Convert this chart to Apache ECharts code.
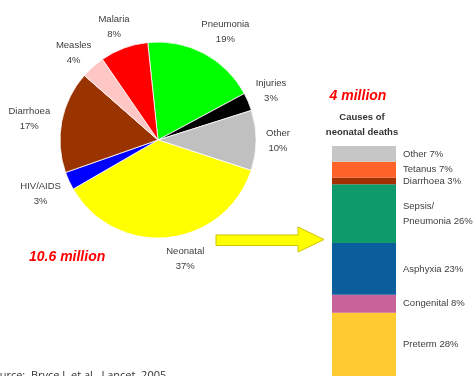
<!DOCTYPE html>
<html>
<head>
<meta charset="utf-8">
<script src="https://cdn.jsdelivr.net/npm/echarts@6/dist/echarts.min.js"></script>
<style>
html,body{margin:0;padding:0;background:#fff;}
#chart{width:475px;height:376px;}
</style>
</head>
<body>
<div id="chart"></div>
<script>
// Pie: causes of child deaths (clockwise from Pneumonia)
var pieNames  = ['Pneumonia', 'Injuries', 'Other', 'Neonatal', 'HIV/AIDS', 'Diarrhoea', 'Measles', 'Malaria'];
var pieValues = [19, 3, 10, 37, 3, 17, 4, 8];
var pieColors = ['#00ff00', '#000000', '#c0c0c0', '#ffff00', '#0000ff', '#993300', '#ffc6c6', '#ff0000'];

// Stacked bar: causes of neonatal deaths (bottom to top)
var barNames  = ['Preterm', 'Congenital', 'Asphyxia', 'Sepsis/\nPneumonia', 'Diarrhoea', 'Tetanus', 'Other'];
var barValues = [28, 8, 23, 26, 3, 7, 7];
var barColors = ['#ffcb30', '#c8629a', '#0a5e9c', '#0e9a6a', '#a33000', '#ff6228', '#c6c6c6'];
var barCategory = ['Neonatal deaths'];

var totalChild = '10.6 million';
var totalNeonatal = '4 million';

var labelShift = {
  'Pneumonia': [8, 4], 'Injuries': [-4, 0], 'Other': [-7, 0], 'Neonatal': [14, -7],
  'HIV/AIDS': [-2, 1], 'Diarrhoea': [-4, 3], 'Measles': [0, 8], 'Malaria': [0, 6]
};

var chart = echarts.init(document.getElementById('chart'));

var pieData = pieNames.map(function (n, i) {
  return { name: n, value: pieValues[i], itemStyle: { color: pieColors[i] } };
});
var pieLabelData = pieNames.map(function (n, i) {
  return { name: n, value: pieValues[i] };
});

var barSeries = barNames.map(function (n, i) {
  return {
    type: 'bar',
    name: n,
    stack: 'neo',
    data: [barValues[i]],
    barWidth: '100%',
    itemStyle: { color: barColors[i] },
    silent: true,
    label: {
      show: true,
      position: 'right',
      distance: 7,
      formatter: n + ' ' + barValues[i] + '%',
      fontFamily: 'Liberation Sans, Arial, sans-serif',
      fontSize: 9.5,
      lineHeight: 15,
      color: '#404040'
    }
  };
});

var option = {
  backgroundColor: '#ffffff',
  animation: false,
  grid: { left: 332, top: 146, width: 64, bottom: 0 },
  xAxis: { type: 'category', data: barCategory, show: false },
  yAxis: { type: 'value', min: 0, max: 102, show: false },
  series: [
    {
      type: 'pie',
      center: [158, 140],
      radius: [0, 98],
      startAngle: 96,
      clockwise: true,
      silent: true,
      label: { show: false },
      labelLine: { show: false },
      itemStyle: { borderColor: '#ffffff', borderWidth: 0.8 },
      data: pieData
    },
    {
      type: 'pie',
      center: [158, 140],
      radius: [0, 248],
      startAngle: 96,
      clockwise: true,
      silent: true,
      z: 3,
      itemStyle: { color: 'rgba(0,0,0,0)', borderWidth: 0 },
      emphasis: { disabled: true },
      label: {
        show: true,
        position: 'inside',
        formatter: '{b}\n{c}%',
        fontFamily: 'Liberation Sans, Arial, sans-serif',
        fontSize: 9.5,
        lineHeight: 15,
        color: '#3c3c3c'
      },
      labelLayout: function (p) {
        var s = labelShift[pieNames[p.dataIndex]] || [0, 0];
        return { dx: s[0], dy: s[1] };
      },
      data: pieLabelData
    }
  ].concat(barSeries),
  graphic: [
    {
      type: 'polygon',
      shape: { points: [[216, 235], [298, 235], [298, 227], [324, 239.5], [298, 252], [298, 245.5], [216, 245.5]] },
      style: { fill: '#ffff00', stroke: '#cfc400', lineWidth: 1 }
    },
    {
      type: 'text', x: 29, y: 257,
      style: { text: totalChild, fill: '#ff0000', font: 'italic bold 14px Liberation Sans, Arial, sans-serif', textVerticalAlign: 'middle' }
    },
    {
      type: 'text', x: 358, y: 96,
      style: { text: totalNeonatal, fill: '#ff0000', font: 'italic bold 14px Liberation Sans, Arial, sans-serif', textAlign: 'center', textVerticalAlign: 'middle' }
    },
    {
      type: 'text', x: 362, y: 125,
      style: { text: 'Causes of\nneonatal deaths', fill: '#333333', font: 'bold 9.5px Liberation Sans, Arial, sans-serif', lineHeight: 15, textAlign: 'center', textVerticalAlign: 'middle' }
    },
    {
      type: 'text', x: -13, y: 370,
      style: { text: 'Source:  Bryce J, et al., Lancet, 2005', fill: '#333333', font: '11px Open Sans, Liberation Sans, sans-serif', textVerticalAlign: 'top' }
    }
  ]
};
chart.setOption(option);
</script>
</body>
</html>
